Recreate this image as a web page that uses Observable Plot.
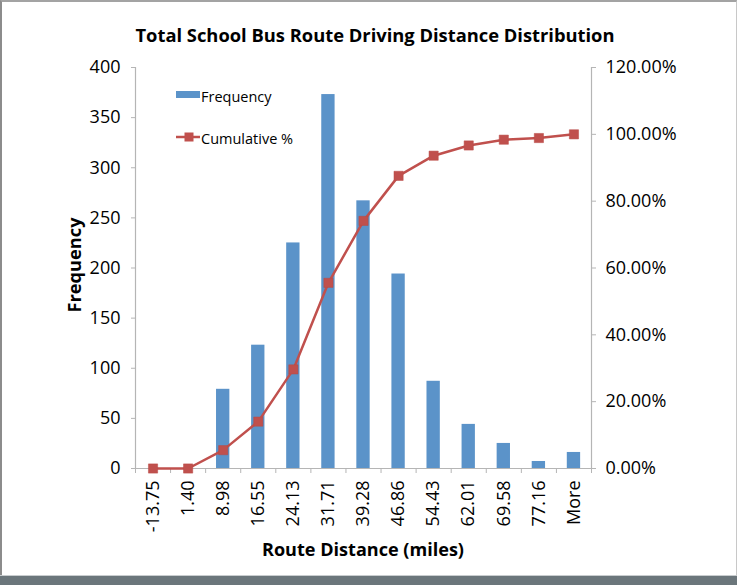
<!DOCTYPE html>
<html>
<head>
<meta charset="utf-8">
<script src="https://cdn.jsdelivr.net/npm/d3@7"></script>
<script src="https://cdn.jsdelivr.net/npm/@observablehq/plot@0.6"></script>
<style>
  html, body { margin: 0; padding: 0; background: #fff; }
  #wrap { position: relative; width: 737px; height: 585px; overflow: hidden; background: #fff; font-family: "Open Sans", sans-serif; }
  #frame { position: absolute; left: 0; top: 0; width: 737px; height: 585px; border-top: 2px solid #a3a3a3; border-left: 2px solid #8c8c8c; border-right: 1px solid #c8c8c8; box-sizing: border-box; }
  #bottombar { position: absolute; left: 0; top: 575px; width: 737px; height: 10px; background: #6b767b; border-top: 1px solid #c9cdcf; box-sizing: border-box; }
  #chart { position: absolute; left: 0; top: 0; }
  #overlay { position: absolute; left: 0; top: 0; }
</style>
</head>
<body>
<div id="wrap">
  <div id="frame"></div>
  <div id="chart"></div>
  <svg id="overlay" width="737" height="585" font-family="Open Sans, sans-serif"></svg>
  <div id="bottombar"></div>
</div>
<script>
const categories = ["-13.75", "1.40", "8.98", "16.55", "24.13", "31.71", "39.28", "46.86", "54.43", "62.01", "69.58", "77.16", "More"];
const frequency = [0, 0, 79, 123, 225, 373, 267, 194, 87, 44, 25, 7, 16];
const cumulativePct = [0, 0, 5.49, 14.03, 29.65, 55.56, 74.10, 87.57, 93.61, 96.67, 98.40, 98.89, 100];
const freqTicks = [0, 50, 100, 150, 200, 250, 300, 350, 400];
const pctTicks = [0, 20, 40, 60, 80, 100, 120];

const titleText = "Total School Bus Route Driving Distance Distribution";
const xTitle = "Route Distance (miles)";
const yTitle = "Frequency";
const legendLabels = ["Frequency", "Cumulative %"];

const barColor = "#5b93c9";
const lineColor = "#c0504d";
const axisColor = "#b5b5b5";

const freqMax = 400, pctMax = 120;
const toFreq = p => p * freqMax / pctMax;

const data = categories.map((c, i) => ({i, cat: c, freq: frequency[i], cum: cumulativePct[i], cumY: toFreq(cumulativePct[i])}));
const boundaries = d3.range(-0.5, categories.length, 1);

const chart = Plot.plot({
  width: 737,
  height: 575,
  marginLeft: 135,
  marginRight: 146,
  marginTop: 67,
  marginBottom: 107,
  style: {fontFamily: "Open Sans, sans-serif", fontSize: "18px", color: "#000", background: "transparent", overflow: "visible"},
  x: {type: "linear", domain: [-0.5, categories.length - 0.5]},
  y: {domain: [0, freqMax]},
  marks: [
    Plot.rectY(data, {x1: d => d.i - 0.19, x2: d => d.i + 0.19, y: "freq", fill: barColor}),
    Plot.ruleX([-0.5, categories.length - 0.5], {stroke: axisColor, strokeWidth: 1.2}),
    Plot.ruleY([0], {stroke: axisColor, strokeWidth: 1.2}),
    Plot.axisY({ticks: freqTicks, tickSize: 4, tickPadding: 11, label: null, stroke: axisColor, tickFormat: d => String(d)}),
    Plot.axisY({anchor: "right", ticks: pctTicks.map(toFreq), tickSize: 4, tickPadding: 10, label: null, stroke: axisColor,
      tickFormat: d => (d * pctMax / freqMax).toFixed(2) + "%"}),
    Plot.axisX({ticks: boundaries, tickSize: 5, tickFormat: () => "", label: null, stroke: axisColor}),
    Plot.axisX({ticks: d3.range(categories.length), tickSize: 0, tickPadding: 12, tickRotate: -90, label: null,
      tickFormat: i => categories[i]}),
    Plot.line(data, {x: "i", y: "cumY", stroke: lineColor, strokeWidth: 2.5}),
    Plot.dot(data, {x: "i", y: "cumY", symbol: "square", r: 5.2, fill: lineColor, stroke: "#b84a47", strokeWidth: 0.5})
  ]
});
document.getElementById("chart").appendChild(chart);

// Overlay texts and legend
const ns = "http://www.w3.org/2000/svg";
const ov = document.getElementById("overlay");
function el(tag, attrs, text) {
  const e = document.createElementNS(ns, tag);
  for (const k in attrs) e.setAttribute(k, attrs[k]);
  if (text != null) e.textContent = text;
  ov.appendChild(e);
  return e;
}
el("text", {x: 375, y: 42, "text-anchor": "middle", "font-weight": "bold", "font-size": 18.5, textLength: 479, lengthAdjust: "spacingAndGlyphs"}, titleText);
el("text", {x: 363, y: 556, "text-anchor": "middle", "font-weight": "bold", "font-size": 18.5, textLength: 202, lengthAdjust: "spacingAndGlyphs"}, xTitle);
el("text", {transform: "translate(81,265) rotate(-90)", "text-anchor": "middle", "font-weight": "bold", "font-size": 18.5, textLength: 95, lengthAdjust: "spacingAndGlyphs"}, yTitle);

// legend
el("rect", {x: 176, y: 91, width: 24, height: 7, fill: barColor});
el("text", {x: 201, y: 102, "font-size": 14.5}, legendLabels[0]);
el("line", {x1: 176, x2: 200, y1: 137, y2: 137, stroke: lineColor, "stroke-width": 2.5});
el("rect", {x: 184.5, y: 132.5, width: 9, height: 9, fill: lineColor});
el("text", {x: 201, y: 143.5, "font-size": 14.5}, legendLabels[1]);
</script>
</body>
</html>
